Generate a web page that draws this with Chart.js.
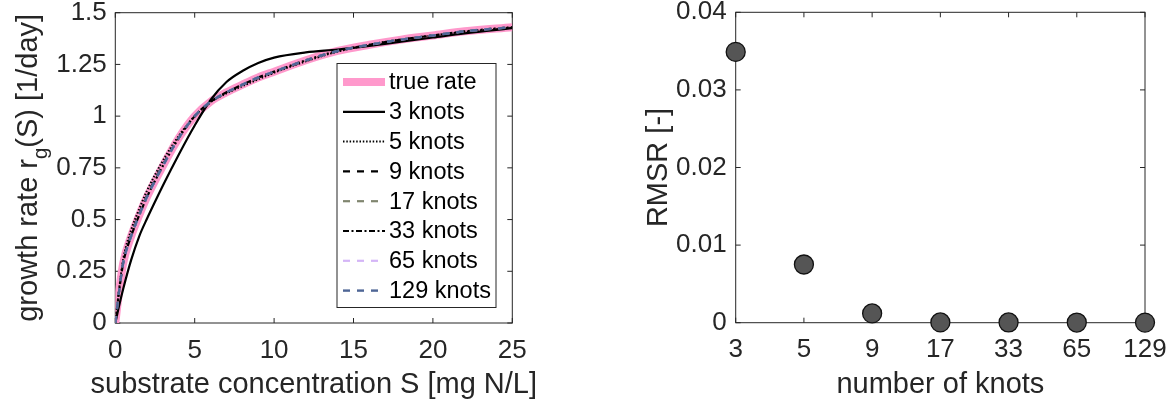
<!DOCTYPE html>
<html>
<head>
<meta charset="utf-8">
<script src="https://cdn.jsdelivr.net/npm/chart.js@4.4.1/dist/chart.umd.min.js"></script>
<style>
  html, body { margin: 0; padding: 0; background: #fff; }
  .panel { position: absolute; top: 0; width: 587px; height: 407px; }
  #rate-panel { left: 0; }
  #rmsr-panel { left: 587px; }
</style>
</head>
<body>
<div class="panel" id="rate-panel"><canvas id="rateChart" width="587" height="407"></canvas></div>
<div class="panel" id="rmsr-panel"><canvas id="rmsrChart" width="587" height="407"></canvas></div>
<script>
// Substrate grid [mg N/L] shared by every growth-rate curve
const sGrid = [0, 0.25, 0.5, 1, 1.5, 2, 3, 4, 5, 6, 7, 8, 9, 10, 12, 14, 16, 18, 20, 22, 25];

// Growth rate [1/day]
const trueRate = [0, 0.16, 0.29, 0.42, 0.52, 0.61, 0.76, 0.895, 1.0, 1.07, 1.115, 1.152, 1.187, 1.215, 1.27, 1.315, 1.345, 1.37, 1.39, 1.41, 1.43];
const knots3   = [0, 0.087, 0.166, 0.305, 0.418, 0.505, 0.665, 0.815, 0.955, 1.078, 1.165, 1.218, 1.257, 1.283, 1.308, 1.322, 1.34, 1.36, 1.38, 1.40, 1.425];
const knots5   = [0, 0.17, 0.31, 0.45, 0.55, 0.64, 0.785, 0.905, 1.0, 1.068, 1.11, 1.145, 1.178, 1.21, 1.265, 1.312, 1.345, 1.37, 1.39, 1.408, 1.428];
const knots9   = [0, 0.16, 0.295, 0.425, 0.525, 0.615, 0.765, 0.895, 0.998, 1.068, 1.113, 1.15, 1.185, 1.213, 1.268, 1.314, 1.345, 1.37, 1.39, 1.41, 1.43];
// finer knot spacings sit on top of the true rate
const knots17  = trueRate;
const knots33  = trueRate;
const knots65  = trueRate;
const knots129 = trueRate;

// Fit error versus number of knots
const knotCounts = ['3', '5', '9', '17', '33', '65', '129'];
const rmsr = [0.0349, 0.0075, 0.0012, 0.00004, 0.00003, 0.00002, 0.00001];

const AXIS = '#262626';
const FONT = '"Liberation Sans", Arial, Helvetica, sans-serif';
const TICK_SIZE = 26;
const LABEL_SIZE = 29;
const LEGEND_SIZE = 23.5;

const toPoints = values => sGrid.map((s, i) => ({ x: s, y: values[i] }));
const plainNumber = v => String(Number(v.toFixed(4)));

const curves = [
  { label: 'true rate', data: trueRate, color: '#ff99cc', width: 8, dash: [] },
  { label: '3 knots', data: knots3, color: '#000000', width: 2.2, dash: [] },
  { label: '5 knots', data: knots5, color: '#000000', width: 2, dash: [1.5, 1.8] },
  { label: '9 knots', data: knots9, color: '#000000', width: 2.2, dash: [7, 7] },
  { label: '17 knots', data: knots17, color: '#80866f', width: 2.2, dash: [7, 7] },
  { label: '33 knots', data: knots33, color: '#000000', width: 2.2, dash: [6, 2.5, 2, 2.5] },
  { label: '65 knots', data: knots65, color: '#d4b5f7', width: 2.2, dash: [7, 7] },
  { label: '129 knots', data: knots129, color: '#4f6696', width: 2.4, dash: [7, 7] }
];

// Box around the plot area with MATLAB-style inward ticks on all four sides
const framePlugin = {
  id: 'frame',
  beforeDatasetsDraw(chart) {
    const { ctx, chartArea: a, scales: { x, y } } = chart;
    const len = 5;
    ctx.save();
    ctx.strokeStyle = AXIS;
    ctx.lineWidth = 1;
    ctx.strokeRect(a.left, a.top, a.right - a.left, a.bottom - a.top);
    ctx.beginPath();
    x.ticks.forEach((t, i) => {
      const px = x.getPixelForTick(i);
      ctx.moveTo(px, a.bottom); ctx.lineTo(px, a.bottom - len);
      ctx.moveTo(px, a.top); ctx.lineTo(px, a.top + len);
    });
    y.ticks.forEach((t, i) => {
      const py = y.getPixelForTick(i);
      ctx.moveTo(a.left, py); ctx.lineTo(a.left + len, py);
      ctx.moveTo(a.right, py); ctx.lineTo(a.right - len, py);
    });
    ctx.stroke();
    ctx.restore();
  }
};

// Axis titles; the y title is a list of runs so a subscript can be set
const titlesPlugin = {
  id: 'titles',
  afterDraw(chart, args, opts) {
    const { ctx, chartArea: a } = chart;
    ctx.save();
    ctx.fillStyle = AXIS;
    ctx.textBaseline = 'alphabetic';
    ctx.textAlign = 'center';
    ctx.font = `${LABEL_SIZE}px ${FONT}`;
    ctx.fillText(opts.xTitle, (a.left + a.right) / 2, opts.xBaseline);

    ctx.translate(opts.yBaseline, (a.top + a.bottom) / 2);
    ctx.rotate(-Math.PI / 2);
    ctx.textAlign = 'left';
    let total = 0;
    opts.yTitle.forEach(run => {
      ctx.font = `${run.sub ? LABEL_SIZE * 0.7 : LABEL_SIZE}px ${FONT}`;
      run.w = ctx.measureText(run.text).width;
      total += run.w;
    });
    let pos = -total / 2;
    opts.yTitle.forEach(run => {
      ctx.font = `${run.sub ? LABEL_SIZE * 0.7 : LABEL_SIZE}px ${FONT}`;
      ctx.fillText(run.text, pos, run.sub ? LABEL_SIZE * 0.36 : 0);
      pos += run.w;
    });
    ctx.restore();
  }
};

// Boxed legend inside the plot area, drawn from the dataset styles
const boxLegendPlugin = {
  id: 'boxLegend',
  afterDatasetsDraw(chart, args, o) {
    const { ctx } = chart;
    ctx.save();
    ctx.fillStyle = '#ffffff';
    ctx.fillRect(o.left, o.top, o.right - o.left, o.bottom - o.top);
    ctx.strokeStyle = AXIS;
    ctx.lineWidth = 1;
    ctx.strokeRect(o.left, o.top, o.right - o.left, o.bottom - o.top);
    chart.data.datasets.forEach((ds, i) => {
      const y = o.firstRow + i * o.rowStep;
      ctx.beginPath();
      ctx.strokeStyle = ds.borderColor;
      ctx.lineWidth = ds.borderWidth;
      ctx.setLineDash(ds.borderDash);
      ctx.moveTo(o.sampleFrom, y);
      ctx.lineTo(o.sampleTo, y);
      ctx.stroke();
      ctx.setLineDash([]);
      ctx.fillStyle = '#000000';
      ctx.font = `${LEGEND_SIZE}px ${FONT}`;
      ctx.textBaseline = 'middle';
      ctx.textAlign = 'left';
      ctx.fillText(ds.label, o.textX, y + 1);
    });
    ctx.restore();
  }
};

const tickFont = { family: FONT, size: TICK_SIZE };

// Pin a scale's thickness so the plot area lands where it should
const fixWidth = w => scale => {
  scale.width = w;
  scale.paddingLeft = scale.paddingRight = scale.paddingTop = scale.paddingBottom = 0;
};
const fixHeight = h => scale => {
  scale.height = h;
  scale.paddingLeft = scale.paddingRight = scale.paddingTop = scale.paddingBottom = 0;
};

new Chart(document.getElementById('rateChart'), {
  type: 'line',
  data: {
    datasets: curves.map((c, i) => ({
      label: c.label,
      data: toPoints(c.data),
      borderColor: c.color,
      borderWidth: c.width,
      borderDash: c.dash,
      cubicInterpolationMode: 'monotone',
      pointRadius: 0,
      fill: false,
      order: curves.length - i
    }))
  },
  options: {
    responsive: false,
    animation: false,
    events: [],
    layout: { padding: { left: 0, top: 12.7, right: 74.7, bottom: 0 } },
    scales: {
      x: {
        type: 'linear', min: 0, max: 25,
        ticks: { stepSize: 5, font: tickFont, color: AXIS, padding: 12, maxRotation: 0, callback: plainNumber },
        grid: { display: false, drawTicks: false },
        border: { display: false },
        afterFit: fixHeight(84)
      },
      y: {
        min: 0, max: 1.5,
        ticks: { stepSize: 0.25, font: tickFont, color: AXIS, padding: 8.5, callback: plainNumber },
        grid: { display: false, drawTicks: false },
        border: { display: false },
        afterFit: fixWidth(115.3)
      }
    },
    plugins: {
      legend: { display: false },
      tooltip: { enabled: false },
      titles: {
        xTitle: 'substrate concentration S [mg N/L]',
        xBaseline: 393,
        yBaseline: 36.5,
        yTitle: [{ text: 'growth rate r' }, { text: 'g', sub: true }, { text: '(S) [1/day]' }]
      },
      boxLegend: {
        left: 337, top: 63.5, right: 496, bottom: 307.5,
        firstRow: 82, rowStep: 29.8,
        sampleFrom: 343, sampleTo: 385, textX: 389
      }
    }
  },
  plugins: [framePlugin, titlesPlugin, boxLegendPlugin]
});

new Chart(document.getElementById('rmsrChart'), {
  type: 'line',
  data: {
    labels: knotCounts,
    datasets: [{
      label: 'RMSR',
      data: rmsr,
      showLine: false,
      pointRadius: 9.5,
      pointBackgroundColor: '#555555',
      pointBorderColor: '#111111',
      pointBorderWidth: 1.3,
      clip: false
    }]
  },
  options: {
    responsive: false,
    animation: false,
    events: [],
    layout: { padding: { left: 0, top: 12.3, right: 29, bottom: 0 } },
    scales: {
      x: {
        type: 'category',
        offset: false,
        ticks: { font: tickFont, color: AXIS, padding: 12, maxRotation: 0, autoSkip: false },
        grid: { display: false, drawTicks: false },
        border: { display: false },
        afterFit: fixHeight(84.3)
      },
      y: {
        min: 0, max: 0.04,
        ticks: { stepSize: 0.01, font: tickFont, color: AXIS, padding: 9, callback: plainNumber },
        grid: { display: false, drawTicks: false },
        border: { display: false },
        afterFit: fixWidth(148.7)
      }
    },
    plugins: {
      legend: { display: false },
      tooltip: { enabled: false },
      titles: {
        xTitle: 'number of knots',
        xBaseline: 393,
        yBaseline: 80,
        yTitle: [{ text: 'RMSR [-]' }]
      }
    }
  },
  plugins: [framePlugin, titlesPlugin]
});
</script>
</body>
</html>
